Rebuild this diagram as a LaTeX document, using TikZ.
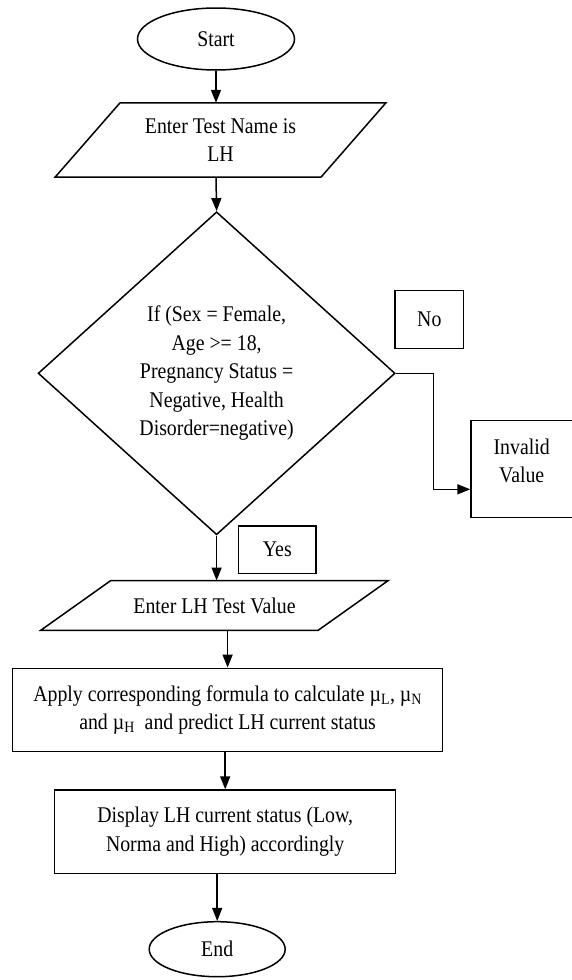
\documentclass[tikz,border=0pt]{standalone}
\usepackage{fontspec}
\setmainfont[FakeStretch=0.885]{Liberation Serif}
\usetikzlibrary{shapes.geometric,arrows.meta,positioning,calc}

\tikzset{
  line/.style={line width=1.5pt},
  arr/.style={line, -{Triangle[length=13pt,width=10pt]}},
  term/.style={ellipse, draw, line, inner sep=0pt},
  proc/.style={rectangle, draw, line, align=center, inner sep=0pt},
  decide/.style={diamond, draw, line, align=center, inner sep=0pt},
  iotext/.style={rectangle, align=center, inner sep=0pt},
}
\newcommand{\iobox}[2]{%
  \draw[line] ($(#1.south west)+(-#2/2,0)$) -- ($(#1.south east)+(-#2/2,0)$)
    -- ($(#1.north east)+(#2/2,0)$) -- ($(#1.north west)+(#2/2,0)$) -- cycle;}

\begin{document}
\begin{tikzpicture}[x=1pt, y=-1pt, font=\fontsize{22.4}{28.5}\selectfont]
\useasboundingbox (0,0) rectangle (571,980);

\node[term, minimum width=157, minimum height=62] (start) at (216,39) {Start};

\node[iotext, minimum width=265.5, minimum height=74] (in1) at (220.5,140) {Enter Test Name is\\LH};
\iobox{in1}{65}

\node[decide, minimum width=357, minimum height=323] (cond) at (216.6,373.3)
  {If (Sex = Female,\\Age >= 18,\\Pregnancy Status =\\Negative, Health\\Disorder=negative)};

\node[proc, minimum width=68.6, minimum height=57.6] (no) at (429.3,319.5) {No};
\node[proc, minimum width=102, minimum height=96.6] (inv) at (522,469) {};
\node[iotext] (invtxt) at (521.7,461) {Invalid\\Value};
\coordinate (bend) at (433.4,489.3);

\node[proc, minimum width=77.5, minimum height=47.3] (yes) at (277.3,549.7) {Yes};

\node[iotext, minimum width=277, minimum height=49.3] (in2) at (214.5,605.4) {Enter LH Test Value};
\iobox{in2}{70}

\node[proc, minimum width=430, minimum height=83.4] (apply) at (227.6,710)
  {Apply corresponding formula to calculate µ\textsubscript{L}, µ\textsubscript{N}\\and µ\textsubscript{H}\ \ and predict LH current status};

\node[proc, minimum width=341, minimum height=83.3] (show) at (225.2,831.7)
  {Display LH current status (Low,\\Norma and High) accordingly};

\node[term, minimum width=136, minimum height=55] (stop) at (217.2,949.2) {End};

\draw[arr] (start.south) -- (start.south |- in1.north);
\draw[arr] (in1.south -| start.south) -- (cond.north);
\draw[arr] (cond.east) -- (cond.east -| bend) -- (bend) -- (bend -| inv.west);
\draw[arr] (cond.south) -- (cond.south |- in2.north);
\draw[arr] (in2.south -| apply.north) -- (apply.north);
\draw[arr] (apply.south -| show.north) -- (show.north);
\draw[arr] (show.south -| stop.north) -- (stop.north);
\end{tikzpicture}
\end{document}
